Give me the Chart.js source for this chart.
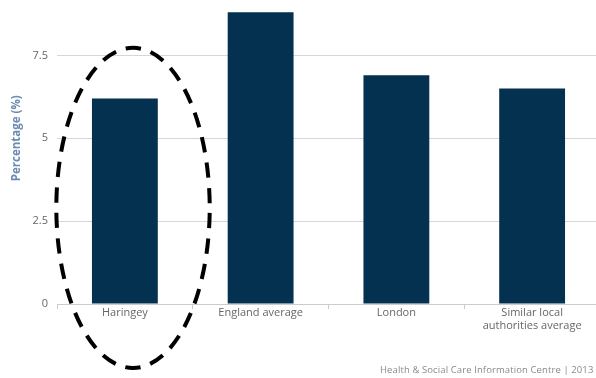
<!DOCTYPE html>
<html>
<head>
<meta charset="utf-8">
<style>
  html, body { margin:0; padding:0; background:#fff; overflow:hidden; width:596px; height:378px; }
  #wrap { position:absolute; left:0; top:-43px; width:610px; height:420px; }
  #note { position:absolute; left:380px; top:363px; white-space:nowrap; font:9.5px "Open Sans", sans-serif; color:#8a8a8a; letter-spacing:0.1px; }
</style>
</head>
<body>
<div id="wrap"><canvas id="myChart" width="610" height="420"></canvas></div>
<div id="note">Health &amp; Social Care Information Centre | 2013</div>
<script src="https://cdn.jsdelivr.net/npm/chart.js@4/dist/chart.umd.min.js"></script>
<script>
var categories = ['Haringey', 'England average', 'London', ['Similar local', 'authorities average']];
var values = [6.2, 8.8, 6.9, 6.5];
var yTicks = [0, 2.5, 5, 7.5, 10];

// dashed ring drawn round the first bar
var ringPlugin = {
    id: 'ring',
    afterDraw: function(chart) {
        var x = chart.scales.x, y = chart.scales.y, ctx = chart.ctx;
        var cw = x.getPixelForValue(1) - x.getPixelForValue(0);
        var cx = x.getPixelForValue(0) + cw * 0.06;
        var cy = y.getPixelForValue(2.9);
        var rx = cw * 0.565;
        var ry = y.getPixelForValue(0) - y.getPixelForValue(4.83);
        // ramanujan perimeter, so a dash lands at the bottom and top
        var per = Math.PI * (3 * (rx + ry) - Math.sqrt((3 * rx + ry) * (rx + 3 * ry)));
        var period = (per / 2) / Math.round(per / 2 / 25.5);
        var dash = period * 0.6;
        ctx.save();
        ctx.beginPath();
        ctx.ellipse(cx, cy, rx, ry, 0, 0, Math.PI * 2);
        ctx.setLineDash([dash, period - dash]);
        ctx.lineDashOffset = period - ((per / 4) % period) + dash / 2;
        ctx.lineWidth = 4;
        ctx.strokeStyle = '#000';
        ctx.stroke();
        ctx.restore();
    }
};

new Chart(document.getElementById('myChart'), {
    type: 'bar',
    data: {
        labels: categories,
        datasets: [{
            data: values,
            backgroundColor: '#03314f',
            borderWidth: 0,
            categoryPercentage: 1,
            barPercentage: 0.485
        }]
    },
    options: {
        responsive: false,
        animation: false,
        events: [],
        layout: { padding: { top: 8, right: 10, bottom: 23, left: 0 } },
        plugins: { legend: { display: false }, tooltip: { enabled: false } },
        scales: {
            x: {
                afterFit: function(a) { a.height = 50; },
                grid: { offset: true, drawOnChartArea: false, drawTicks: true, tickLength: 5, color: '#cccccc' },
                border: { color: '#cccccc' },
                ticks: { color: '#666', padding: -3, maxRotation: 0, font: { family: 'Open Sans', size: 11 } }
            },
            y: {
                min: 0,
                max: 10,
                afterFit: function(a) { a.width = 57; },
                afterBuildTicks: function(a) { a.ticks = yTicks.map(function(v) { return { value: v }; }); },
                grid: { color: '#d6d6d6', drawTicks: false },
                border: { display: false },
                ticks: { color: '#666', padding: 9, font: { family: 'Open Sans', size: 11 } },
                title: { display: true, text: 'Percentage (%)', color: '#6b8cb0', padding: { top: 10, bottom: 4 }, font: { family: 'Open Sans', size: 11.5, weight: 'bold' } }
            }
        }
    },
    plugins: [ringPlugin]
});
</script>
</body>
</html>
